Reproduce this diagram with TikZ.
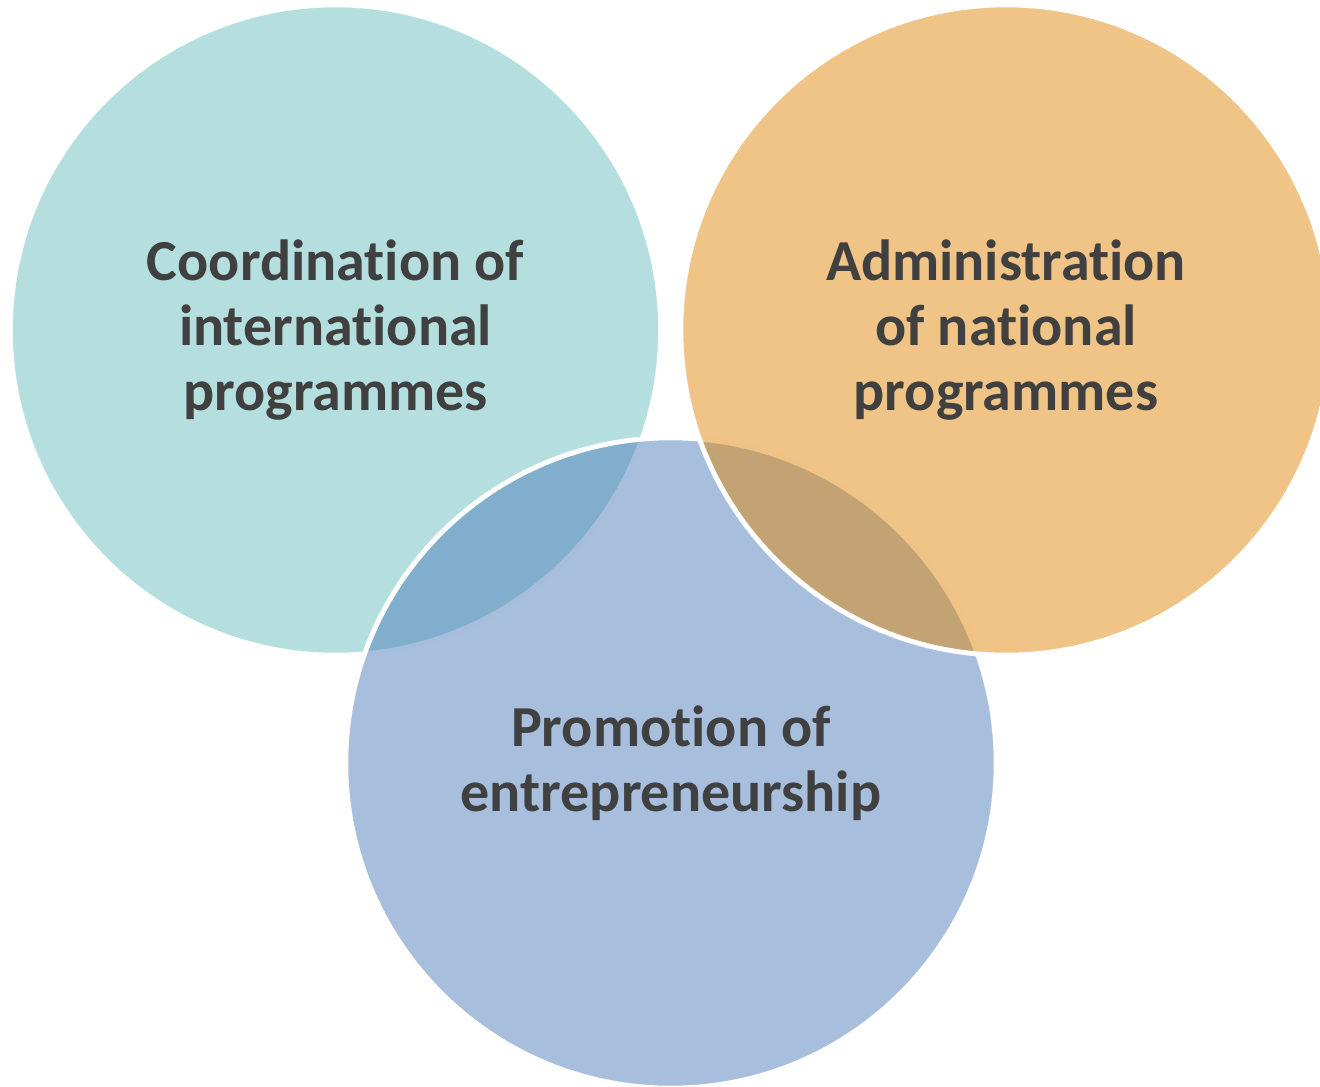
\documentclass[tikz,border=0pt]{standalone}
\usepackage{fontspec}
\setmainfont{Carlito}[Ligatures=NoCommon]
\usepackage{tikz}
\usetikzlibrary{positioning}

\definecolor{tealc}{RGB}{107,191,191}
\definecolor{bluec}{RGB}{79,127,187}
\definecolor{orangec}{RGB}{223,137,13}
\definecolor{textc}{RGB}{64,64,64}

\tikzset{
	venn/.style={circle, minimum size=6.5cm, inner sep=0, draw=white, line width=1.4pt,
		fill opacity=0.5, text opacity=1, align=center, text=textc,
		font=\fontsize{16.5}{18.5}\selectfont\bfseries},
}

\begin{document}
\begin{tikzpicture}[x=0.01cm, y=-0.01cm]
	\useasboundingbox (0,0) rectangle (1320,1087);
	\clip (0,0) rectangle (1320,1087);
	% circulos %
	\node[venn, fill=tealc] (coord) at (335.5,330) {Coordination of\\international\\programmes};
	\node[venn, fill=bluec] (promo) at (671,763) {Promotion of\\entrepreneurship};
	\node[venn, fill=orangec] (admin) at (1006,330) {Administration\\of national\\programmes};
\end{tikzpicture}
\end{document}
